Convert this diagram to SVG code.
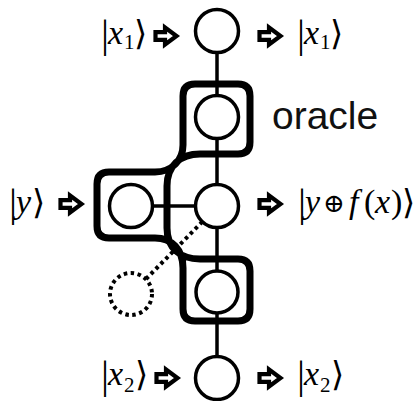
<svg xmlns="http://www.w3.org/2000/svg" width="417" height="401" viewBox="0 0 417 401">
<defs>
<style>
.q{fill:#fff;stroke:#000;stroke-width:3.5}
.wire{fill:none;stroke:#000;stroke-width:3.5}
.dot{fill:none;stroke:#000;stroke-width:4;stroke-dasharray:3.5 3.5}
.oracle{fill:none;stroke:#000;stroke-width:7;stroke-linejoin:round}
.arr{fill:#fff;stroke:#000;stroke-width:4.2;stroke-linejoin:miter}
text.m{font-size:34px;fill:#000}
.lbl{font-family:'Liberation Sans',Arial,sans-serif;font-size:39px;fill:#111}
</style>
<path id="ar" d="M1.5,-3.8 H11 V-8.5 L22.5,0 L11,8.5 V3.8 H1.5 Z"/>
</defs>
<rect width="417" height="401" fill="#fff"/>

<g id="oracle-box">
<path class="oracle" d="M183,145 V96 Q183,84 195,84 H238 Q250,84 250,96 V142 Q250,154 238,154 H200 C180,154 167,166 167,186 V228 C167,248 180,259 200,259 H238 Q250,259 250,271 V309 Q250,321 238,321 H195 Q183,321 183,309 V268 C183,250 172,238 155,238 H109 Q97,238 97,226 V184 Q97,172 109,172 H155 C172,172 183,160 183,145 Z"/>
<text class="lbl" x="272" y="129">oracle</text>
</g>

<g id="connectors">
<line class="wire" x1="217" y1="40" x2="217" y2="370"/>
<line class="wire" x1="140" y1="206" x2="205" y2="206"/>
<line class="dot" x1="146" y1="279" x2="203" y2="221"/>
<use href="#ar" class="arr" x="154" y="36"/>
<use href="#ar" class="arr" x="258" y="36"/>
<use href="#ar" class="arr" x="59" y="204"/>
<use href="#ar" class="arr" x="258" y="204"/>
<use href="#ar" class="arr" x="155" y="378"/>
<use href="#ar" class="arr" x="258" y="378"/>
</g>

<g id="node-x1"><circle class="q" cx="217" cy="31" r="21.5"/></g>
<g id="node-o1"><circle class="q" cx="217" cy="117" r="21.5"/></g>
<g id="node-y-in"><circle class="q" cx="131" cy="206" r="21.5"/></g>
<g id="node-y"><circle class="q" cx="217" cy="206" r="21.5"/></g>
<g id="node-o2"><circle class="q" cx="217" cy="292" r="21"/></g>
<g id="node-dotted"><circle class="dot" cx="131" cy="294" r="21"/></g>
<g id="node-x2"><circle class="q" cx="217" cy="378" r="21.5"/></g>

<g id="labels" font-family="Liberation Serif, serif">
<text class="m"><tspan font-size="40" x="101" y="47">|</tspan><tspan font-style="italic" x="108" y="44">x</tspan><tspan font-size="21" x="124" y="49">1</tspan><tspan font-family="DejaVu Serif, serif" font-size="34" x="134" y="45">⟩</tspan></text>
<text class="m"><tspan font-size="40" x="297" y="47">|</tspan><tspan font-style="italic" x="304" y="44">x</tspan><tspan font-size="21" x="320" y="49">1</tspan><tspan font-family="DejaVu Serif, serif" font-size="34" x="330" y="45">⟩</tspan></text>
<text class="m"><tspan font-size="40" x="9" y="216">|</tspan><tspan font-style="italic" x="16" y="213">y</tspan><tspan font-family="DejaVu Serif, serif" font-size="34" x="32" y="214">⟩</tspan></text>
<text class="m"><tspan font-size="40" x="298" y="216">|</tspan><tspan font-style="italic" x="305" y="213">y</tspan><tspan font-family="DejaVu Serif, serif" font-size="26" x="323" y="212">⊕</tspan><tspan font-style="italic" x="349" y="213">f</tspan><tspan x="364" y="213">(</tspan><tspan font-style="italic" x="375" y="213">x</tspan><tspan x="391" y="213">)</tspan><tspan font-family="DejaVu Serif, serif" font-size="34" x="402" y="214">⟩</tspan></text>
<text class="m"><tspan font-size="40" x="101" y="388">|</tspan><tspan font-style="italic" x="108" y="385">x</tspan><tspan font-size="21" x="124" y="392">2</tspan><tspan font-family="DejaVu Serif, serif" font-size="34" x="135" y="386">⟩</tspan></text>
<text class="m"><tspan font-size="40" x="297" y="388">|</tspan><tspan font-style="italic" x="304" y="385">x</tspan><tspan font-size="21" x="320" y="392">2</tspan><tspan font-family="DejaVu Serif, serif" font-size="34" x="331" y="386">⟩</tspan></text>
</g>
</svg>
